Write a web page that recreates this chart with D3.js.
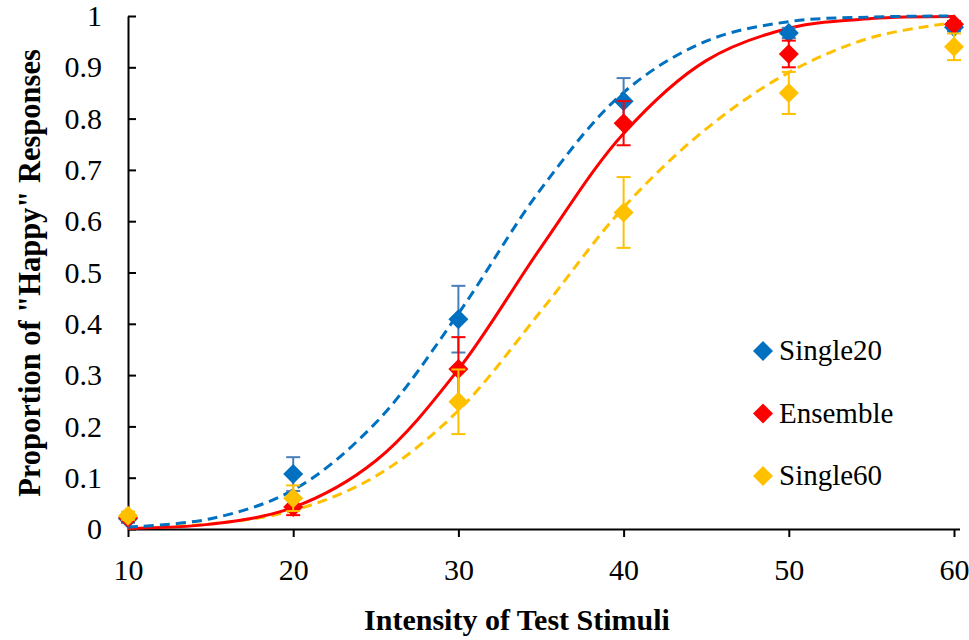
<!DOCTYPE html>
<html>
<head>
<meta charset="utf-8">
<script src="https://cdn.jsdelivr.net/npm/d3@7"></script>
<style>
  body { margin: 0; background: #fff; }
  svg { display: block; font-family: "Liberation Serif", "Times New Roman", serif; }
</style>
</head>
<body>
<svg id="chart" width="969" height="640"></svg>
<script>
// data
var intensities = [10, 20, 30, 40, 50, 60];
var seriesNames = ["Single20", "Ensemble", "Single60"];

var single20 = [0.020, 0.107, 0.409, 0.834, 0.967, 0.978];
var single20Err = [0.008, 0.033, 0.065, 0.045, 0.010, 0.008];
var ensemble = [0.022, 0.043, 0.312, 0.791, 0.926, 0.984];
var ensembleErr = [0.006, 0.016, 0.062, 0.043, 0.026, 0.006];
var single60 = [0.026, 0.060, 0.248, 0.617, 0.850, 0.940];
var single60Err = [0.008, 0.025, 0.063, 0.069, 0.041, 0.026];

// fitted curves, sampled every 5 units
var fitX = [10, 15, 20, 25, 30, 35, 40, 45, 50, 55, 60];
var fitSingle20 = [0.004, 0.020, 0.076, 0.207, 0.420, 0.663, 0.851, 0.951, 0.989, 0.998, 1.000];
var fitEnsemble = [0.0015, 0.0095, 0.042, 0.133, 0.311, 0.549, 0.771, 0.913, 0.976, 0.995, 0.999];
var fitSingle60 = [0.002, 0.010, 0.036, 0.103, 0.231, 0.425, 0.627, 0.780, 0.890, 0.958, 0.987];

var xTicks = [10, 20, 30, 40, 50, 60];
var yTicks = [0, 0.1, 0.2, 0.3, 0.4, 0.5, 0.6, 0.7, 0.8, 0.9, 1];

var svg = d3.select("#chart");

var x = d3.scaleLinear().domain([10, 60]).range([128, 954]);
var y = d3.scaleLinear().domain([0, 1]).range([529, 16]);

var series = [
    { name: "Single20", vals: single20, err: single20Err, fit: fitSingle20, color: "#0070C0", errColor: "#4A7EBB", dash: "10,6" },
    { name: "Ensemble", vals: ensemble, err: ensembleErr, fit: fitEnsemble, color: "#FF0000", errColor: "#FF0000", dash: null },
    { name: "Single60", vals: single60, err: single60Err, fit: fitSingle60, color: "#FFC000", errColor: "#FFC000", dash: "10,6" }
];

// axes
var yAxis = d3.axisLeft(y)
    .tickValues(yTicks)
    .tickFormat(d3.format(".1~f"))
    .tickSizeInner(-8)
    .tickSizeOuter(0)
    .tickPadding(26);

var xAxis = d3.axisBottom(x)
    .tickValues(xTicks)
    .tickSizeInner(8)
    .tickSizeOuter(0)
    .tickPadding(22);

var gy = svg.append("g").attr("transform", "translate(128,0)").call(yAxis);
var gx = svg.append("g").attr("transform", "translate(0,529)").call(xAxis);

[gx, gy].forEach(function(g) {
    g.attr("font-family", null);
    g.selectAll("path, line").attr("stroke", "#000").attr("stroke-width", 2);
    g.selectAll("text")
        .attr("fill", "#000")
        .style("font-size", "30px")
        .style("font-family", "'Liberation Serif', 'Times New Roman', serif");
});
gx.select(".domain").attr("d", "M128,0.5H960");

// axis titles
svg.append("text")
    .attr("x", 517)
    .attr("y", 630)
    .attr("text-anchor", "middle")
    .style("font-size", "30px")
    .style("font-weight", "bold")
    .text("Intensity of Test Stimuli");

svg.append("text")
    .attr("transform", "translate(40,273) rotate(-90)")
    .attr("text-anchor", "middle")
    .style("font-size", "30.5px")
    .style("font-weight", "bold")
    .text('Proportion of "Happy" Responses');

// fitted curves
var line = d3.line()
    .x(function(d, i) { return x(fitX[i]); })
    .y(function(d) { return y(d); })
    .curve(d3.curveCatmullRom.alpha(0.5));

[series[2], series[1], series[0]].forEach(function(s) {
    svg.append("path")
        .attr("d", line(s.fit))
        .attr("fill", "none")
        .attr("stroke", s.color)
        .attr("stroke-width", 3)
        .attr("stroke-dasharray", s.dash);
});

// error bars + markers
var diamond = d3.symbol().type(d3.symbolSquare).size(200);

series.forEach(function(s) {
    var g = svg.append("g");
    var bars = g.selectAll("g.err")
        .data(s.vals)
        .enter()
        .append("g")
        .attr("class", "err")
        .attr("stroke", s.errColor)
        .attr("stroke-width", 2);
    bars.append("line")
        .attr("x1", function(d, i) { return x(intensities[i]); })
        .attr("x2", function(d, i) { return x(intensities[i]); })
        .attr("y1", function(d, i) { return y(d - s.err[i]); })
        .attr("y2", function(d, i) { return y(d + s.err[i]); });
    bars.append("line")
        .attr("x1", function(d, i) { return x(intensities[i]) - 7; })
        .attr("x2", function(d, i) { return x(intensities[i]) + 7; })
        .attr("y1", function(d, i) { return y(d + s.err[i]); })
        .attr("y2", function(d, i) { return y(d + s.err[i]); });
    bars.append("line")
        .attr("x1", function(d, i) { return x(intensities[i]) - 7; })
        .attr("x2", function(d, i) { return x(intensities[i]) + 7; })
        .attr("y1", function(d, i) { return y(d - s.err[i]); })
        .attr("y2", function(d, i) { return y(d - s.err[i]); });

    g.selectAll("path.pt")
        .data(s.vals)
        .enter()
        .append("path")
        .attr("class", "pt")
        .attr("d", diamond)
        .attr("fill", s.color)
        .attr("transform", function(d, i) {
            return "translate(" + x(intensities[i]) + "," + y(d) + ") rotate(45)";
        });
});

// legend
var legend = svg.append("g")
    .selectAll("g")
    .data(series)
    .enter()
    .append("g")
    .attr("transform", function(d, i) { return "translate(763," + (351 + i * 62.5) + ")"; });

legend.append("path")
    .attr("d", diamond)
    .attr("fill", function(d) { return d.color; })
    .attr("transform", "rotate(45)");

legend.append("text")
    .attr("x", 16)
    .attr("y", 9)
    .style("font-size", "29px")
    .text(function(d) { return d.name; });
</script>
</body>
</html>
